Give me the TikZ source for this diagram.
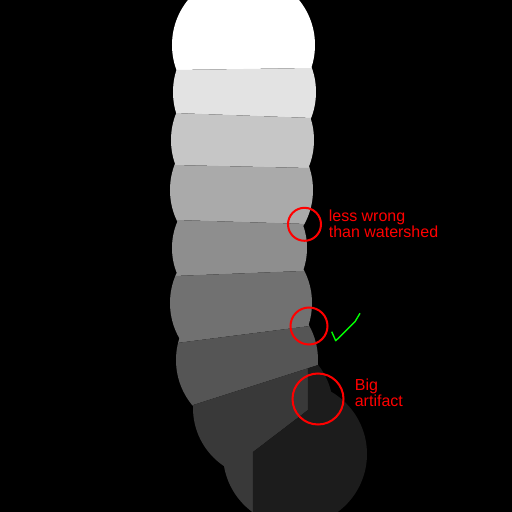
\documentclass[tikz,border=0pt]{standalone}
\usepackage{fontspec}
\setmainfont{Liberation Sans}
\usepackage{tikz}
\tikzset{
    ring/.style={draw=red, line width=1.15pt}, % 红色圆圈
    note/.style={text=red, inner sep=0pt, align=left, anchor=base west, font=\fontsize{9.1}{9.07}\selectfont}, % 红色注释文字
    tick/.style={draw=green, line width=0.8pt, line join=round} % 绿色勾
}

\begin{document}
\begin{tikzpicture}[x=0.02cm, y=-0.02cm]
            \def\W{512}
            \useasboundingbox (0,0) rectangle (\W,\W);
            \clip (0,0) rectangle (\W,\W);
            \fill[black] (0,0) rectangle (\W,\W);

            % 圆盘: x/y/半径
            \def\disks{243.5/45/71.5, 244.5/92/71.5, 242.5/140/71.5, 241.5/190/71.5, 239.5/248/67.5, 241/303/71, 247/360/71, 263/408/70, 295/454/72}

            % 各段: 灰度 / 上边界(左,右) / 下边界(左,右)
            \foreach \g/\ya/\yb/\yc/\yd in {100/-10/-10/71.1/66.4, 89/71.1/66.4/110.3/121.9, 77.6/110.3/121.9/163.4/170.4, 66.7/163.4/170.4/217.7/227.4, 55.7/217.7/227.4/278.9/266.4, 44.3/278.9/266.4/352.8/311.9, 33.3/352.8/311.9/434.8/332.4} {
                \begin{scope}
                    \clip (100,\ya) -- (420,\yb) -- (420,\yd) -- (100,\yc) -- cycle;
                    \fill[white!\g!black] \foreach \cx/\cy/\r in \disks {(\cx,\cy) circle (\r)};
                \end{scope}
            }
            \begin{scope}
                \clip (100,434.8) -- (308,368.2) -- (308,410) -- (253,452) -- (253,520) -- (100,520) -- cycle;
                \fill[white!22.4!black] \foreach \cx/\cy/\r in \disks {(\cx,\cy) circle (\r)};
            \end{scope}
            \begin{scope}
                \clip (308,368.2) -- (420,332.4) -- (420,520) -- (253,520) -- (253,452) -- (308,410) -- cycle;
                \fill[white!11!black] \foreach \cx/\cy/\r in \disks {(\cx,\cy) circle (\r)};
            \end{scope}

            \draw[ring] (304.5,224.3) circle (16.5);
            \draw[ring] (309,326) circle (18.5);
            \draw[ring] (318,399) circle (25.5);

            \draw[tick] (331.7,331.7) -- (335.7,340.7) -- (339.3,337.3) -- (345.7,331) -- (350,326.7) -- (355,321.7) -- (360,313.3);

            \node[note] (lesswrong) at (328.5,237.7) {less wrong\\than watershed};
            \node[note] (artifact) at (354.5,406.7) {Big\\artifact};
        \end{tikzpicture}
\end{document}
